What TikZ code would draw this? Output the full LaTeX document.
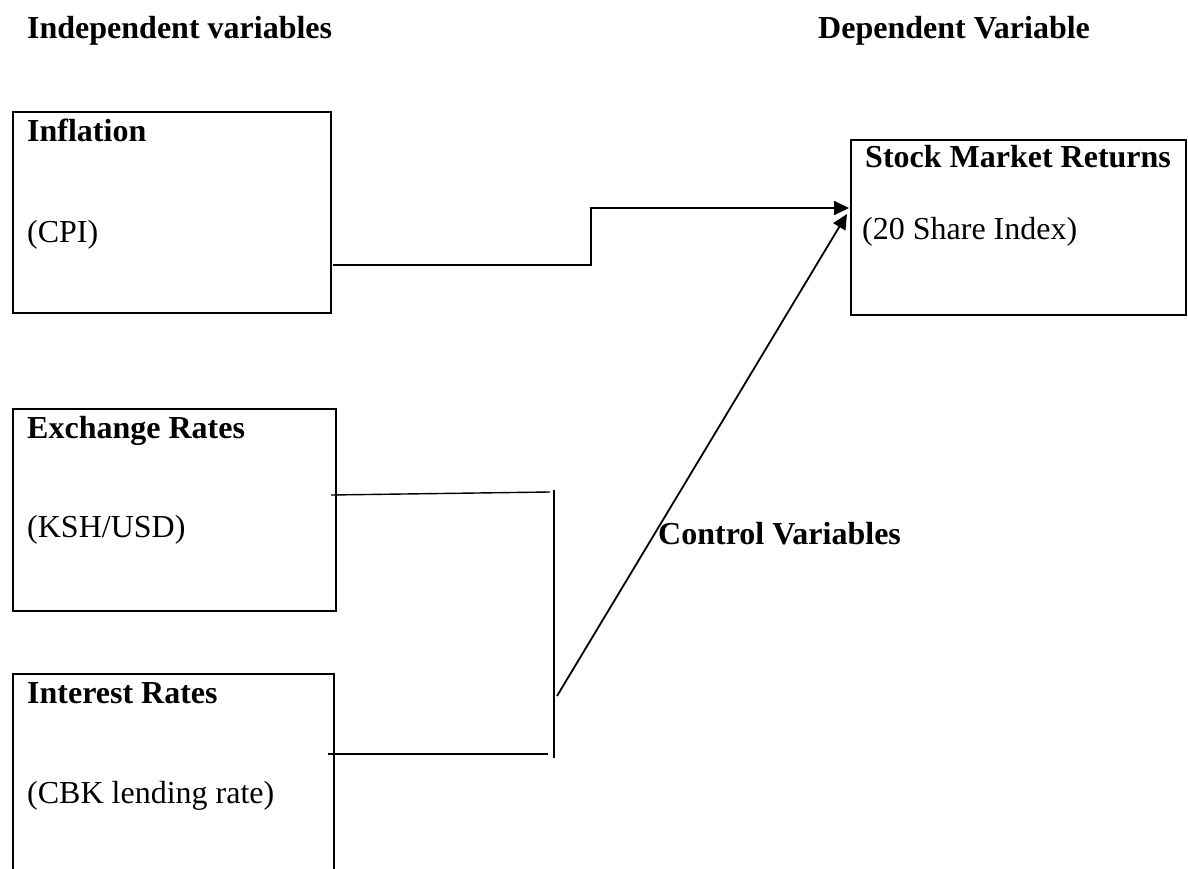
\documentclass[tikz,border=0pt]{standalone}
\usepackage{fontspec}
\setmainfont{Liberation Serif}
\usetikzlibrary{arrows.meta}
\tikzset{
  box/.style={draw, line width=1.8pt, anchor=north west, inner sep=0pt},
  ttl/.style={anchor=base west, inner sep=0pt, font=\fontsize{32}{38}\selectfont\bfseries},
  txt/.style={anchor=base west, inner sep=0pt, font=\fontsize{32}{38}\selectfont},
  conn/.style={line width=1.8pt},
  thin/.style={line width=1.4pt},
  arr/.style={-{Triangle[length=15pt,width=14pt]}}
}
\begin{document}
\begin{tikzpicture}[x=1pt,y=-1pt]
\useasboundingbox (0,0) rectangle (1188,869);
% headings
\node[ttl] (hind) at (27,39) {Independent variables};
\node[ttl] (hdep) at (818,39) {Dependent Variable};
% boxes
\node[box, minimum width=318pt, minimum height=201pt] (infl) at (12,111) {};
\node[box, minimum width=335pt, minimum height=175pt] (stock) at (850,139) {};
\node[box, minimum width=323pt, minimum height=202pt] (exch) at (12,408) {};
\node[box, minimum width=321pt, minimum height=210pt] (intr) at (12,673) {};
% box texts
\node[ttl] (inflT) at (27,142) {Inflation};
\node[txt] (inflS) at (27,242) {(CPI)};
\node[ttl] (stockT) at (865,168) {Stock Market Returns};
\node[txt] (stockS) at (862,240) {(20 Share Index)};
\node[ttl] (exchT) at (27,438) {Exchange Rates};
\node[txt] (exchS) at (27,537) {(KSH/USD)};
\node[ttl] (intrT) at (27,703) {Interest Rates};
\node[txt] (intrS) at (27,803) {(CBK lending rate)};
\node[ttl] (ctrl) at (658,544) {Control Variables};
% connector points
\coordinate (a1) at (333,265);
\coordinate (bend) at (591,208);
\coordinate (tip1) at (849,208);
\coordinate (ex1) at (331,495);
\coordinate (ex2) at (550,492);
\coordinate (bar1) at (554,490);
\coordinate (bar2) at (554,758);
\coordinate (in1) at (328,754);
\coordinate (in2) at (548,754);
\coordinate (d1) at (557,696);
\coordinate (tip2) at (847,214);
% connectors
\draw[conn, arr] (a1) -| (bend) -- (tip1);
\draw[thin] (ex1) -- (ex2);
\draw[thin] (bar1) -- (bar2);
\draw[thin] (in1) -- (in2);
\draw[conn, arr] (d1) -- (tip2);
\end{tikzpicture}
\end{document}
